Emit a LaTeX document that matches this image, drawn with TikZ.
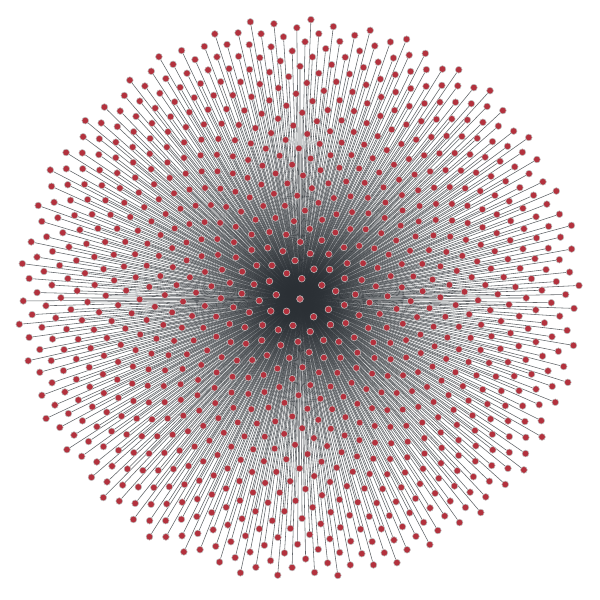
\documentclass[tikz,border=0pt]{standalone}
\usetikzlibrary{positioning,calc}
\definecolor{cred}{HTML}{B3313D}
\definecolor{cslate}{HTML}{2B3035}
\pgfdeclarelayer{bg}
\pgfsetlayers{bg,main}
\begin{document}
\begin{tikzpicture}[x=0.02cm,y=-0.02cm,
  dot/.style={circle,draw=gray!50,line width=0.3pt,fill=cred,inner sep=0pt,
              minimum size=0.135cm},
  hub/.style={dot,fill=cred!85!white},
  edge/.style={draw=cslate,opacity=0.75,line width=0.32pt}]
\useasboundingbox (0,0) rectangle (600,600);
\node[hub] (c) at (300,299) {};
% leaves on a sunflower spiral
\foreach \i in {1,...,950}{
  \pgfmathsetmacro\r{282*sqrt((\i+3)/953)}
  \pgfmathsetmacro\a{100.31*floor(\i/40)+137.508*mod(\i,40)}
  \node[dot] (v\i) at ($(c)+(\a:\r)$) {};
}
\begin{pgfonlayer}{bg}
\foreach \i in {1,...,950} \draw[edge] (c) -- (v\i);
\end{pgfonlayer}
\end{tikzpicture}
\end{document}
